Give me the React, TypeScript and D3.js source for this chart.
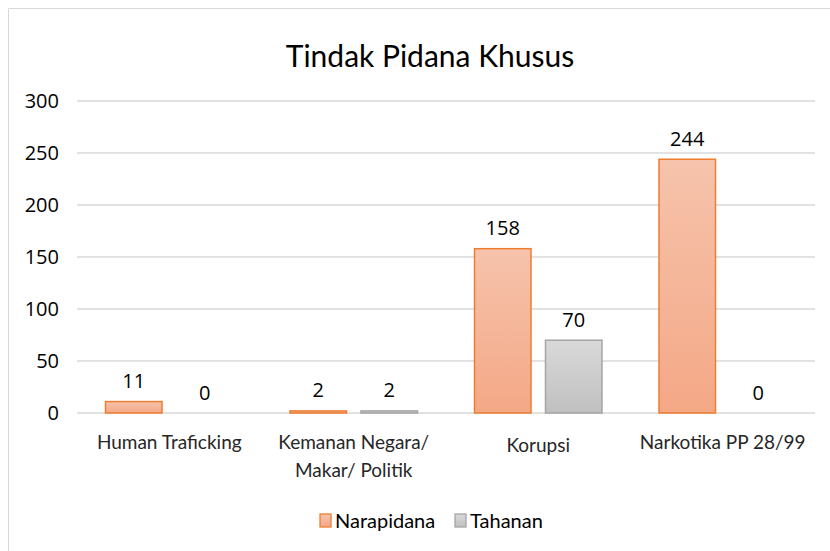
import React from "react";
import * as d3 from "d3";

const categories = ["Human Traficking", "Kemanan Negara/\nMakar/ Politik", "Korupsi", "Narkotika PP 28/99"];
const seriesNames = ["Narapidana", "Tahanan"];
const narapidana = [11, 2, 158, 244];
const tahanan = [0, 2, 70, 0];
const yTicks = [0, 50, 100, 150, 200, 250, 300];
const title = "Tindak Pidana Khusus";

const W = 830;
const H = 551;
const FONT = "Lato, 'Open Sans', sans-serif";
const NUMFONT = "'Open Sans', Lato, sans-serif";

export default function App() {
  const x0 = d3.scaleBand<string>().domain(categories).range([77, 815]).paddingInner(0).paddingOuter(0);
  const x1 = d3
    .scaleBand<string>()
    .domain(seriesNames)
    .range([0, x0.bandwidth()])
    .paddingInner(0.183)
    .paddingOuter(0.391);
  const y = d3.scaleLinear().domain([0, 300]).range([413, 101]);

  const values = [narapidana, tahanan];
  const fills = ["url(#gOrange)", "url(#gGray)"];
  const strokes = ["#ED7D31", "#A5A5A5"];

  return (
    <svg width={W} height={H} style={{ position: "absolute", left: 0, top: 0 }} fontFamily={FONT}>
      <defs>
        <linearGradient id="gOrange" x1="0" y1="0" x2="0" y2="1">
          <stop offset="0" stopColor="#F6C3AC" />
          <stop offset="1" stopColor="#F4A886" />
        </linearGradient>
        <linearGradient id="gGray" x1="0" y1="0" x2="0" y2="1">
          <stop offset="0" stopColor="#D9D9D9" />
          <stop offset="1" stopColor="#C0C0C0" />
        </linearGradient>
      </defs>
      <rect x={0} y={0} width={W} height={H} fill="#fff" />
      {/* chart border */}
      <line x1={8.5} y1={8.5} x2={W} y2={8.5} stroke="#D9D9D9" />
      <line x1={8.5} y1={8.5} x2={8.5} y2={H} stroke="#D9D9D9" />

      <text x={430} y={67} textAnchor="middle" fontSize={30} fill="#000">
        {title}
      </text>

      {yTicks.map((t) => (
        <g key={t}>
          <line x1={77} x2={815} y1={y(t)} y2={y(t)} stroke="#D9D9D9" strokeWidth={1.3} />
          <text x={59} y={y(t) + 7} textAnchor="end" fontSize={20} fill="#000" fontFamily={NUMFONT}>
            {t}
          </text>
        </g>
      ))}

      {categories.map((c, ci) => (
        <g key={c}>
          {seriesNames.map((s, si) => {
            const v = values[si][ci];
            const bx = (x0(c) as number) + (x1(s) as number);
            const bw = x1.bandwidth();
            const top = y(v);
            return (
              <g key={s}>
                {v > 0 && (
                  <rect
                    x={bx + 0.75}
                    y={top}
                    width={bw - 1.5}
                    height={y(0) - top}
                    fill={fills[si]}
                    stroke={strokes[si]}
                    strokeWidth={1.5}
                  />
                )}
                <text
                  x={bx + bw / 2}
                  y={top - 13.5}
                  textAnchor="middle"
                  fontSize={20}
                  fill="#000"
                  fontFamily={NUMFONT}
                >
                  {v}
                </text>
              </g>
            );
          })}
          {c.split("\n").map((line, li) => (
            <text
              key={li}
              x={(x0(c) as number) + x0.bandwidth() / 2}
              y={449 + li * 28 + (c === "Korupsi" ? 3 : 0)}
              textAnchor="middle"
              fontSize={19}
              fill="#262626"
            >
              {line}
            </text>
          ))}
        </g>
      ))}

      {/* legend */}
      <rect x={320} y={514} width={11} height={13} fill="url(#gOrange)" stroke="#ED7D31" strokeWidth={1.3} />
      <text x={335} y={528} fontSize={20} fill="#000">
        {seriesNames[0]}
      </text>
      <rect x={455} y={514} width={11} height={13} fill="url(#gGray)" stroke="#A5A5A5" strokeWidth={1.3} />
      <text x={470} y={528} fontSize={20} fill="#000">
        {seriesNames[1]}
      </text>
    </svg>
  );
}
